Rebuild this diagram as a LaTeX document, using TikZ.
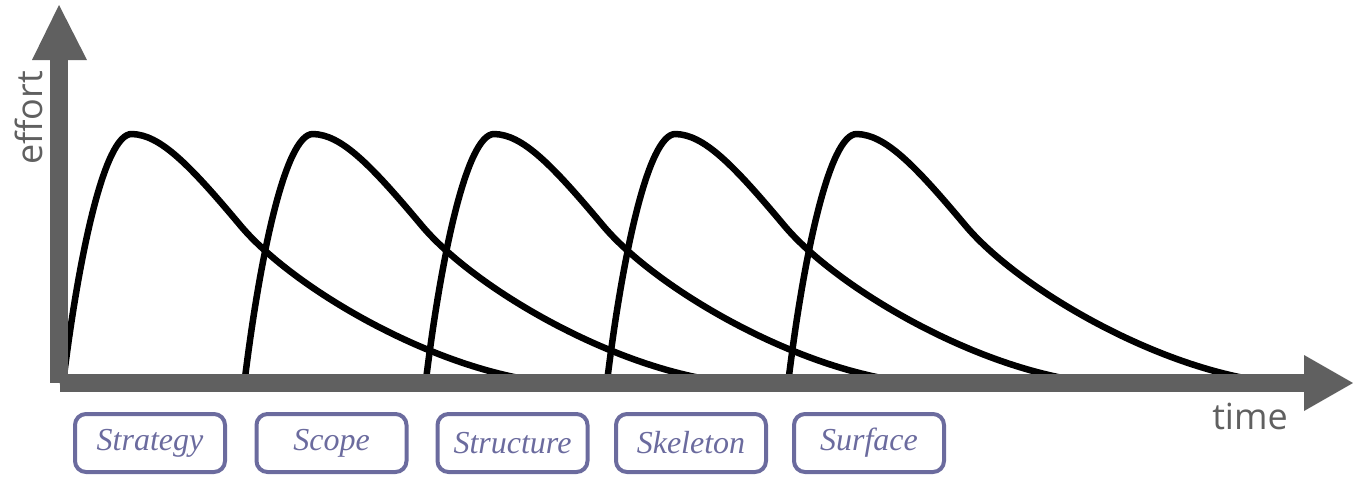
\documentclass[tikz,border=0pt]{standalone}
\usepackage{fontspec}
\newfontfamily\axisfont{Open Sans}
\newfontfamily\stagefont{Liberation Serif}
\definecolor{axisgray}{HTML}{606060}
\definecolor{boxpurple}{HTML}{6B6B9E}
\begin{document}
\begin{tikzpicture}[x=1pt,y=-1pt,
  stagebox/.style={draw=boxpurple, line width=4pt, rounded corners=11pt,
    minimum width=150pt, minimum height=58pt, inner sep=0pt, text=boxpurple,
    font=\stagefont\itshape\fontsize{32}{38}\selectfont},
  axislabel/.style={text=axisgray, font=\axisfont\fontsize{36}{40}\selectfont, inner sep=0pt},
  effortcurve/.style={line width=6.5pt, line join=round, line cap=round},
  axisfill/.style={fill=axisgray, draw=none}]
\useasboundingbox (0,0) rectangle (1353,477);

% effort curves
\foreach \i in {0,...,4} {
  \begin{scope}[xshift=\i*181.25pt]
    \draw[effortcurve] (63,384) .. controls (78,260) and (104,133) .. (132,134)
      .. controls (160,135) and (188,163) .. (240,225)
      .. controls (290,285) and (420,362) .. (530,380);
  \end{scope}
}

% axes
\fill[axisfill] (50,60) rectangle (68,383);
\fill[axisfill] (60,374) rectangle (1304,392);
\fill[axisfill] (32,60) -- (59,5) -- (87,60) -- cycle;
\fill[axisfill] (1304,355) -- (1353,383) -- (1304,411) -- cycle;

\node[axislabel, rotate=90, anchor=base] (effortlabel) at (42,118) {effort};
\node[axislabel, anchor=base] (timelabel) at (1250,429) {time};

% stage boxes
\node[stagebox] (strategy) at (150,443) {Strategy};
\node[stagebox] (scope) at (331.5,443) {Scope};
\node[stagebox] (structure) at (512.5,443) {Structure};
\node[stagebox] (skeleton) at (691,443) {Skeleton};
\node[stagebox] (surface) at (869,443) {Surface};
\end{tikzpicture}
\end{document}
